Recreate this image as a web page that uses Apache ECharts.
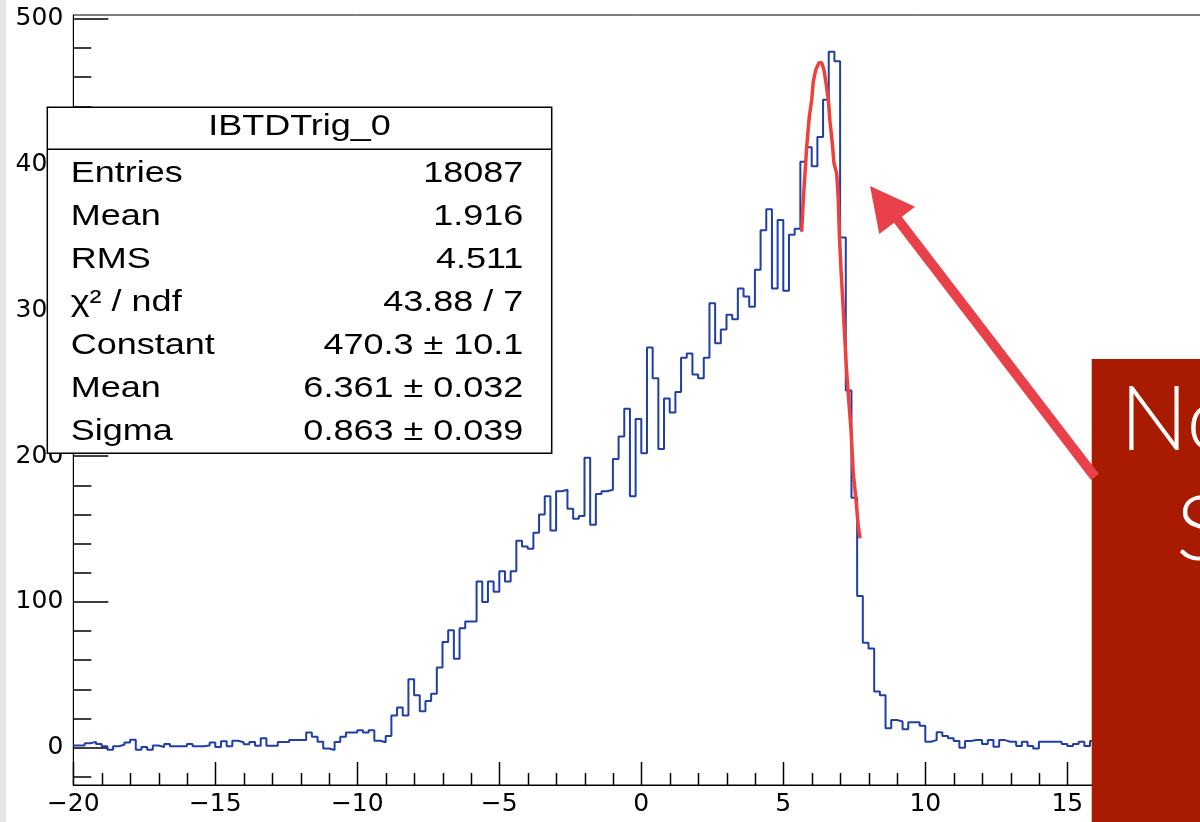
<!DOCTYPE html>
<html>
<head>
<meta charset="utf-8">
<script src="https://cdn.jsdelivr.net/npm/echarts@6/dist/echarts.min.js"></script>
<style>
  html, body { margin: 0; padding: 0; background: #ffffff; }
  #chart { width: 1200px; height: 822px; }
</style>
</head>
<body>
<div id="chart"></div>
<script>
// ---------------- data ----------------
const histTitle = 'IBTDTrig_0';
const xLow = -20;
const xHigh = 20;
// bin contents, 200 bins of width 0.2 from -20 to 20
const counts = [
  1.5, 1.5, 3, 4, 2.5, 1, -1.5, 1, 2, 3.5,
  5.5, -1.5, 0.5, -1.5, 1.5, 0.5, 2.5, 1, 1, 1,
  2.5, 1, 1, 1.5, 3.5, 0.5, 4.5, 1, 4.8, 3.7,
  2.3, 3.9, 1.4, 6.4, 1.4, 1.4, 3.9, 3.9, 5.3, 5.3,
  5.3, 10.5, 7.5, 4.1, -0.5, -1.6, 3.9, 7.5, 10.5, 10.5,
  12, 10.5, 12, 4.8, 3.7, 8, 22, 27.5, 22, 47,
  36, 25, 32, 37, 55, 72.5, 80.5, 61, 82, 86.5,
  86.5, 114, 100, 114, 107, 121, 114, 121, 142, 138,
  136.5, 147.5, 160, 172.5, 149, 176, 177, 164, 157, 159,
  199, 153, 174, 176, 177, 198, 213.5, 232.5, 172.5, 225.5,
  202, 274.5, 253.5, 205, 239.5, 230, 244, 267.5, 270.5, 256,
  253.5, 267.5, 305, 277.5, 287, 297, 294, 315, 309.5, 302.5,
  328, 355, 369.5, 315, 362, 313.5, 352, 356, 402, 412,
  399, 419, 444.5, 477.5, 471, 350, 245, 171.5, 104, 72,
  68, 38.5, 36, 13.3, 19, 18, 12.6, 17.5, 17.5, 15,
  4.1, 5.2, 10.6, 8, 6.4, 4.6, 0, 4.6, 5.2, 5.2,
  2.5, 5.2, 0.6, 5.2, 4.1, 4.1, 1.1, 4.1, 1.1, -0.5,
  4.1, 4.1, 4.1, 4.1, 2.5, 1.1, 2.5, 4.1, 1.1, 4.6,
  3, 1, 2, 4, 1, 2.5, 3, 0.5, 2, 3.5,
  1, 2, 3, 1.5, 0.5, 2, 1, 2.5, 1.5, 1
];
// gaussian fit curve
const fitX = [5.648, 5.704, 5.764, 5.824, 5.915, 6.000, 6.056, 6.141, 6.257, 6.352,
              6.433, 6.504, 6.585, 6.644, 6.725, 6.785, 6.880, 6.937, 6.972, 7.032,
              7.092, 7.162, 7.232, 7.313, 7.384, 7.465, 7.560, 7.641, 7.701];
const fitY = [354, 375.8, 394, 412.4, 433, 444.4, 457, 465, 470, 470,
              465, 456, 444.4, 429.5, 414.7, 401, 394, 375.8, 353, 327.8,
              307.2, 282, 256.9, 236.3, 218, 188.3, 170, 151.7, 143.7];
const xMajorTicks = [-20, -15, -10, -5, 0, 5, 10, 15, 20];
const xMinorTicks = [-19, -18, -17, -16, -14, -13, -12, -11, -9, -8, -7, -6, -4, -3, -2, -1,
                     1, 2, 3, 4, 6, 7, 8, 9, 11, 12, 13, 14, 16, 17, 18, 19];
const yMajorTicks = [0, 100, 200, 300, 400, 500];
const yMinorTicks = [-20, 20, 40, 60, 80, 120, 140, 160, 180, 220, 240, 260, 280,
                     320, 340, 360, 380, 420, 440, 460, 480];
const statLabels = ['Entries', 'Mean', 'RMS', 'χ² / ndf', 'Constant', 'Mean', 'Sigma'];
const statValues = ['18087', '1.916', '4.511', '43.88 / 7', '470.3 ± 10.1', '6.361 ± 0.032', '0.863 ± 0.039'];
const slideLines = ['No', 'S'];

// ---------------- build ----------------
const yMin = -25.6, yMax = 502.7;
const binWidth = (xHigh - xLow) / counts.length;
const histData = counts.map((c, i) => [xLow + i * binWidth, c]);
histData.push([xHigh, counts[counts.length - 1]]);
const fitData = fitX.map((x, i) => [x, fitY[i]]);
const tickData = xMajorTicks.map(v => [v, yMin, 23]).concat(xMinorTicks.map(v => [v, yMin, 12]));

const rootFont = '"Liberation Sans", Arial, Helvetica, sans-serif';
const axisFont = '"DejaVu Sans", "Liberation Sans", sans-serif';
const fmtMinus = v => String(v).replace('-', '\u2212');
const stretch = 1.2;

const statTop = 107.3, statLeft = 47.3, statRight = 551.7, statBottom = 453.3;
const rowY0 = 173.3, rowStep = 43.0;

const graphics = [
  { type: 'rect', z: 1, shape: { x: 0, y: 0, width: 6, height: 822 }, style: { fill: '#e4e6ea' } },
  { type: 'rect', z: 100, shape: { x: statLeft, y: statTop, width: statRight - statLeft, height: statBottom - statTop },
    style: { fill: '#ffffff', stroke: '#000000', lineWidth: 1.5 } },
  { type: 'line', z: 101, shape: { x1: statLeft, y1: 149.3, x2: statRight, y2: 149.3 },
    style: { stroke: '#000000', lineWidth: 1.5 } },
  { type: 'text', z: 102, x: (statLeft + statRight) / 2, y: 127, scaleX: stretch,
    style: { text: histTitle, fontSize: 30, fontFamily: rootFont, fill: '#000',
             align: 'center', verticalAlign: 'middle', textAlign: 'center', textVerticalAlign: 'middle' } }
];
statLabels.forEach((lab, i) => {
  graphics.push({ type: 'text', z: 102, x: 70.7, y: rowY0 + i * rowStep, scaleX: stretch,
    style: { text: lab, fontSize: 30, fontFamily: rootFont, fill: '#000',
             align: 'left', verticalAlign: 'middle', textAlign: 'left', textVerticalAlign: 'middle' } });
  graphics.push({ type: 'text', z: 102, x: 523.3, y: rowY0 + i * rowStep, scaleX: stretch,
    style: { text: statValues[i], fontSize: 30, fontFamily: rootFont, fill: '#000',
             align: 'right', verticalAlign: 'middle', textAlign: 'right', textVerticalAlign: 'middle' } });
});
// slide overlay box
graphics.push({ type: 'rect', z: 120, shape: { x: 1091.7, y: 359, width: 120, height: 470 }, style: { fill: '#a91b00' } });
graphics.push({ type: 'text', z: 121, x: 1120, y: 421,
  style: { text: slideLines[0], fontSize: 90, fontWeight: 300, fontFamily: 'Lato, "Open Sans", sans-serif', fill: '#ffffff',
           align: 'left', verticalAlign: 'middle', textAlign: 'left', textVerticalAlign: 'middle' } });
graphics.push({ type: 'text', z: 121, x: 1176, y: 531,
  style: { text: slideLines[1], fontSize: 90, fontWeight: 300, fontFamily: 'Lato, "Open Sans", sans-serif', fill: '#ffffff',
           align: 'left', verticalAlign: 'middle', textAlign: 'left', textVerticalAlign: 'middle' } });
// arrow
graphics.push({ type: 'line', z: 130, shape: { x1: 895, y1: 216, x2: 1095, y2: 477 },
  style: { stroke: '#e8414a', lineWidth: 10, lineCap: 'butt' } });
graphics.push({ type: 'polygon', z: 131, shape: { points: [[870, 186], [915, 206.7], [879.3, 234]] },
  style: { fill: '#e8414a' } });

const chart = echarts.init(document.getElementById('chart'), null, { renderer: 'canvas' });
chart.setOption({
  animation: false,
  backgroundColor: '#ffffff',
  grid: { left: 73.3, top: 15, width: 1136, height: 770, show: true, borderColor: '#000', borderWidth: 1,
          backgroundColor: 'transparent', containLabel: false, outerBoundsMode: 'none' },
  xAxis: {
    type: 'value', min: xLow, max: xHigh, interval: 5,
    axisLine: { show: true, onZero: false, lineStyle: { color: '#000', width: 1 } },
    axisTick: { show: false },
    minorTick: { show: false },
    splitLine: { show: false },
    axisLabel: { color: '#000', fontSize: 25, fontFamily: axisFont, margin: 7, formatter: fmtMinus,
                 showMinLabel: true, showMaxLabel: true, hideOverlap: false }
  },
  yAxis: [
    {
      type: 'value', min: yMin, max: yMax, position: 'left',
      axisLine: { show: true, onZero: false, lineStyle: { color: '#000', width: 1 } },
      axisTick: { show: true, inside: true, length: 35, customValues: yMajorTicks, lineStyle: { color: '#000', width: 1.5 } },
      splitLine: { show: false },
      axisLabel: { color: '#000', fontSize: 25, fontFamily: axisFont, margin: 10, customValues: yMajorTicks }
    },
    {
      type: 'value', min: yMin, max: yMax, position: 'left', offset: 0,
      axisLine: { show: false, onZero: false },
      axisTick: { show: true, inside: true, length: 18, customValues: yMinorTicks, lineStyle: { color: '#000', width: 1.5 } },
      splitLine: { show: false },
      axisLabel: { show: false }
    }
  ],
  series: [
    { type: 'line', name: histTitle, data: histData, step: 'end', showSymbol: false, symbol: 'none',
      lineStyle: { color: '#1f3fa6', width: 2 }, z: 3, silent: true },
    { type: 'line', name: 'gaus', data: fitData, showSymbol: false, symbol: 'none', smooth: false,
      lineStyle: { color: '#f0403c', width: 3.5 }, z: 4, silent: true },
    { type: 'custom', name: 'xticks', data: tickData, clip: false, silent: true, z: 5,
      renderItem: function (params, api) {
        const p = api.coord([api.value(0), api.value(1)]);
        const len = api.value(2);
        const x = Math.round(p[0]) + 0.5;
        return { type: 'line', shape: { x1: x, y1: p[1], x2: x, y2: p[1] - len },
                 style: { stroke: '#000', lineWidth: 1.5 } };
      }
    }
  ],
  graphic: { elements: graphics }
});
</script>
</body>
</html>
